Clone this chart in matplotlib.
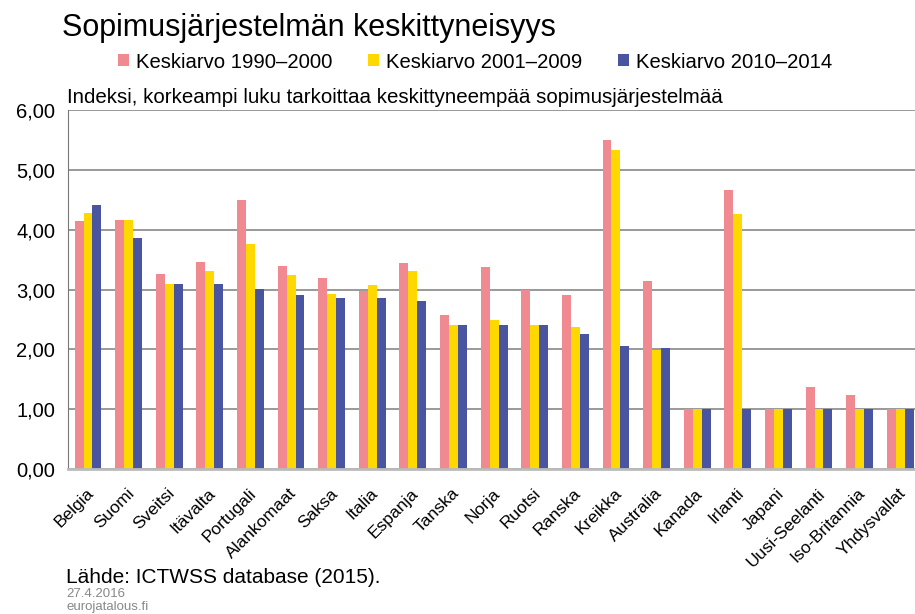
import numpy as np
import matplotlib.pyplot as plt
from matplotlib.ticker import FuncFormatter

maat = ['Belgia', 'Suomi', 'Sveitsi', 'Itävalta', 'Portugali', 'Alankomaat',
        'Saksa', 'Italia', 'Espanja', 'Tanska', 'Norja', 'Ruotsi', 'Ranska',
        'Kreikka', 'Australia', 'Kanada', 'Irlanti', 'Japani',
        'Uusi-Seelanti', 'Iso-Britannia', 'Yhdysvallat']

ka_1990_2000 = [4.15, 4.16, 3.26, 3.46, 4.49, 3.39, 3.19, 2.97, 3.44, 2.58,
                3.38, 2.99, 2.90, 5.50, 3.14, 1.00, 4.67, 1.00, 1.37, 1.23, 1.00]
ka_2001_2009 = [4.27, 4.16, 3.10, 3.31, 3.76, 3.24, 2.93, 3.08, 3.31, 2.40,
                2.49, 2.40, 2.38, 5.33, 1.99, 1.00, 4.26, 1.00, 1.00, 1.00, 1.00]
ka_2010_2014 = [4.41, 3.86, 3.10, 3.10, 3.01, 2.90, 2.85, 2.85, 2.81, 2.40,
                2.40, 2.40, 2.25, 2.06, 2.03, 1.00, 1.00, 1.00, 1.00, 1.00, 1.00]

sarjat = ['Keskiarvo 1990\u20132000', 'Keskiarvo 2001\u20132009', 'Keskiarvo 2010\u20132014']
varit = ['#F08A90', '#FFD800', '#4A55A2']

plt.rcParams['font.family'] = ['Liberation Sans', 'DejaVu Sans']

fig = plt.figure(figsize=(9.15, 6.14), dpi=100)
ax = fig.add_axes([0.074, 0.236, 0.932, 0.585])

x = np.arange(len(maat))
w = 0.22
for i, (vals, nimi, c) in enumerate(zip([ka_1990_2000, ka_2001_2009, ka_2010_2014], sarjat, varit)):
    ax.bar(x + (i - 1) * w, vals, width=w, color=c, label=nimi, zorder=2)

ax.set_xlim(-0.5, len(maat) - 0.5)
ax.set_ylim(0, 6)
ax.set_yticks(np.arange(0, 6.01, 1))
ax.yaxis.set_major_formatter(FuncFormatter(lambda v, p: '{:.2f}'.format(v).replace('.', ',')))
ax.grid(axis='y', color='#888888', linewidth=1.2, zorder=0)
for s in ['top', 'right']:
    ax.spines[s].set_visible(False)
ax.spines['left'].set_color('#777777')
ax.spines['bottom'].set_color('#bbbbbb')
ax.spines['bottom'].set_linewidth(2)
ax.tick_params(axis='y', length=0, labelsize=14.5, pad=9)
ax.tick_params(axis='x', length=0, pad=12)
ax.set_xticks(x - 0.05)
ax.set_xticklabels(maat, rotation=45, ha='right', rotation_mode='anchor', fontsize=12.5)

fig.text(0.068, 0.955, 'Sopimusjärjestelmän keskittyneisyys', fontsize=22, va='center')
fig.legend(loc='center', bbox_to_anchor=(0.519, 0.899), ncol=3, frameon=False,
           fontsize=14.6, handlelength=0.55, handleheight=0.55, handletextpad=0.35,
           columnspacing=1.75)
fig.text(0.073, 0.842, 'Indeksi, korkeampi luku tarkoittaa keskittyneempää sopimusjärjestelmää',
         fontsize=14.8, va='center')
fig.text(0.072, 0.06, 'Lähde: ICTWSS database (2015).', fontsize=15, va='center')
fig.text(0.073, 0.032, '27.4.2016', fontsize=9.5, color='#888888', va='center')
fig.text(0.073, 0.012, 'eurojatalous.fi', fontsize=9.5, color='#888888', va='center')

fig.savefig('out.png', dpi=100)
